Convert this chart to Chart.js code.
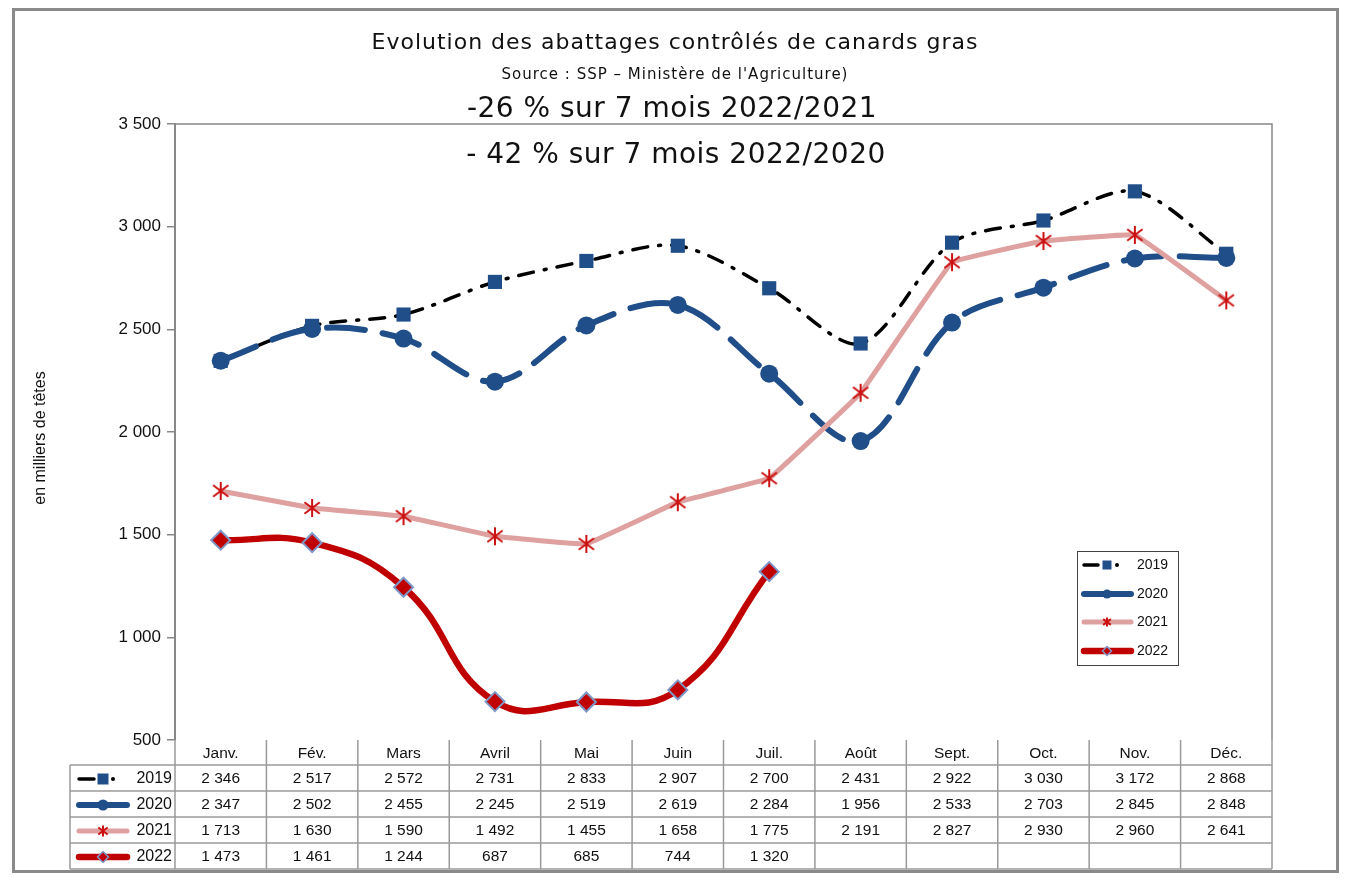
<!DOCTYPE html>
<html><head><meta charset="utf-8">
<script src="https://cdn.jsdelivr.net/npm/chart.js@4/dist/chart.umd.min.js"></script>
<style>html,body{margin:0;padding:0;background:#fff;}#wrap{width:1352px;height:884px;position:relative;}</style>
</head><body><div id="wrap"><canvas id="c" width="1352" height="884"></canvas></div>
<script>
const categories = ['Janv.','Fév.','Mars','Avril','Mai','Juin','Juil.','Août','Sept.','Oct.','Nov.','Déc.'];
const seriesNames = ['2019','2020','2021','2022'];
const v2019 = [2346,2517,2572,2731,2833,2907,2700,2431,2922,3030,3172,2868];
const v2020 = [2347,2502,2455,2245,2519,2619,2284,1956,2533,2703,2845,2848];
const v2021 = [1713,1630,1590,1492,1455,1658,1775,2191,2827,2930,2960,2641];
const v2022 = [1473,1461,1244,687,685,744,1320,null,null,null,null,null];
const yTicks = [500,1000,1500,2000,2500,3000,3500];
const titleText = 'Evolution des abattages contrôlés de canards gras';
const sourceText = "Source : SSP – Ministère de l'Agriculture)";
const note1 = '-26 % sur 7 mois 2022/2021';
const note2 = '- 42 % sur 7 mois 2022/2020';
const yTitle = 'en milliers de têtes';

const fmt = n => (n === null || n === undefined) ? '' : String(n).replace(/\B(?=(\d{3})+(?!\d))/g, ' ');
const TFONT = '"DejaVu Sans","Open Sans",sans-serif';
const ARIAL = '"Liberation Sans",Arial,sans-serif';

function asteriskCanvas(r, color, lw) {
  const c = document.createElement('canvas');
  const s = Math.ceil(2 * r + 4);
  c.width = s; c.height = s;
  const g = c.getContext('2d');
  const x = s / 2, y = s / 2, d = r * 0.85;
  g.strokeStyle = color; g.lineWidth = lw;
  g.beginPath();
  g.moveTo(x - d, y - d * 0.75); g.lineTo(x + d, y + d * 0.75);
  g.moveTo(x + d, y - d * 0.75); g.lineTo(x - d, y + d * 0.75);
  g.moveTo(x, y - r); g.lineTo(x, y + r);
  g.stroke();
  return c;
}

const styles = [
  {line:'#000000', width:3.5, dash:[15,11,2,11], marker:'rect', mFill:'#1F4E89', mBorder:'#1F4E89', r:10, tension:0.3},
  {line:'#1F4E89', width:6, dash:[38,18], marker:'circle', mFill:'#1F4E89', mBorder:'#1F4E89', r:9, tension:0.35},
  {line:'#DFA0A0', width:5, dash:[], marker:'star', mFill:'#CC1111', mBorder:'#CC1111', r:9, tension:0.05},
  {line:'#C00000', width:6.5, dash:[], marker:'rectRot', mFill:'#C00000', mBorder:'#7E97C8', r:9.5, tension:0.45}
];
const allData = [v2019, v2020, v2021, v2022];
const starImg = asteriskCanvas(9, '#CC1111', 2);

function drawMarker(ctx, s, x, y, r) {
  ctx.save();
  ctx.setLineDash([]);
  ctx.fillStyle = s.mFill; ctx.strokeStyle = s.mBorder; ctx.lineWidth = 1.5;
  ctx.beginPath();
  if (s.marker === 'rect') { ctx.rect(x-r, y-r, 2*r, 2*r); ctx.fill(); }
  else if (s.marker === 'circle') { ctx.arc(x, y, r, 0, Math.PI*2); ctx.fill(); }
  else if (s.marker === 'rectRot') { ctx.moveTo(x, y-r); ctx.lineTo(x+r, y); ctx.lineTo(x, y+r); ctx.lineTo(x-r, y); ctx.closePath(); ctx.fill(); ctx.stroke(); }
  else if (s.marker === 'star') { const d=r*0.85; ctx.lineWidth = 2; ctx.moveTo(x-d,y-d*0.75); ctx.lineTo(x+d,y+d*0.75); ctx.moveTo(x+d,y-d*0.75); ctx.lineTo(x-d,y+d*0.75); ctx.moveTo(x,y-r); ctx.lineTo(x,y+r); ctx.stroke(); }
  ctx.restore();
}
function drawSample(ctx, s, x1, x2, y, mx, r) {
  ctx.save();
  ctx.strokeStyle = s.line; ctx.lineWidth = s.width; ctx.lineCap = 'round';
  if (s.marker === 'rect') { ctx.beginPath(); ctx.moveTo(x1, y); ctx.lineTo(mx-9, y); ctx.stroke(); ctx.beginPath(); ctx.arc(mx+10, y, 2, 0, Math.PI*2); ctx.fillStyle='#000'; ctx.fill(); }
  else { ctx.beginPath(); ctx.moveTo(x1, y); ctx.lineTo(x2, y); ctx.stroke(); }
  ctx.restore();
  drawMarker(ctx, s, mx, y, r);
}

const decor = {
  id: 'decor',
  beforeDraw(chart) {
    const ctx = chart.ctx;
    ctx.save();
    ctx.fillStyle = '#fff'; ctx.fillRect(0, 0, chart.width, chart.height);
    ctx.strokeStyle = '#8a8a8a'; ctx.lineWidth = 3;
    ctx.strokeRect(13.5, 9.5, 1324, 862);
    ctx.restore();
  },
  afterDraw(chart) {
    const ctx = chart.ctx, a = chart.chartArea, xs = chart.scales.x;
    ctx.save();
    ctx.strokeStyle = '#888'; ctx.lineWidth = 1.5;
    ctx.beginPath(); ctx.moveTo(a.left, a.top); ctx.lineTo(a.right, a.top); ctx.lineTo(a.right, a.bottom); ctx.stroke();
    ctx.fillStyle = '#111'; ctx.textAlign = 'center'; ctx.textBaseline = 'middle';
    ctx.letterSpacing = '1px';
    ctx.font = '22px ' + TFONT; ctx.fillText(titleText, 675, 43);
    ctx.font = '15px ' + TFONT; ctx.fillText(sourceText, 675, 75);
    ctx.letterSpacing = '0.5px';
    ctx.font = '28px ' + TFONT; ctx.fillText(note1, 672, 110);
    ctx.fillText(note2, 676, 156);
    ctx.letterSpacing = '0px';
    ctx.save(); ctx.translate(41, 438); ctx.rotate(-Math.PI/2);
    ctx.font = '16px ' + ARIAL; ctx.fillStyle = '#111'; ctx.fillText(yTitle, 0, 0); ctx.restore();
    // table
    const band = (a.right - a.left) / categories.length;
    const rowTop = a.bottom, hH = 25, rH = 26;
    const tableBottom = rowTop + hH + rH * 4;
    const legL = 70;
    ctx.strokeStyle = '#9a9a9a'; ctx.lineWidth = 1.5;
    ctx.beginPath();
    for (let i = 0; i <= categories.length; i++) {
      const x = a.left + band * i;
      ctx.moveTo(x, rowTop); ctx.lineTo(x, tableBottom);
    }
    ctx.moveTo(legL, rowTop + hH); ctx.lineTo(legL, tableBottom);
    for (let r = 1; r <= 4; r++) { const y = rowTop + hH + rH * r; ctx.moveTo(legL, y); ctx.lineTo(a.right, y); }
    ctx.moveTo(legL, rowTop + hH); ctx.lineTo(a.right, rowTop + hH);
    ctx.stroke();
    ctx.fillStyle = '#111'; ctx.font = '15.5px ' + ARIAL; ctx.textAlign = 'center'; ctx.textBaseline = 'middle';
    categories.forEach((c, i) => ctx.fillText(c, xs.getPixelForValue(i), rowTop + hH/2 + 1));
    allData.forEach((arr, r) => {
      const yc = rowTop + hH + rH * r + rH/2 + 1;
      ctx.fillStyle = '#111'; ctx.textAlign = 'center'; ctx.font = '15.5px ' + ARIAL;
      arr.forEach((v, i) => ctx.fillText(fmt(v), xs.getPixelForValue(i), yc));
      ctx.font = '16px ' + ARIAL;
      ctx.textAlign = 'right'; ctx.fillText(seriesNames[r], 172, yc);
      drawSample(ctx, styles[r], 79, 127, yc, 103, 5.5);
    });
    // legend box
    ctx.strokeStyle = '#444'; ctx.lineWidth = 1;
    ctx.strokeRect(1077.5, 551.5, 101, 114);
    const ly = [565, 594, 622, 651];
    ly.forEach((y, r) => {
      drawSample(ctx, styles[r], 1084, 1131, y, 1107, 4.5);
      ctx.fillStyle = '#111'; ctx.font = '14px ' + ARIAL; ctx.textAlign = 'left';
      ctx.fillText(seriesNames[r], 1137, y);
    });
    ctx.restore();
  }
};

new Chart(document.getElementById('c'), {
  type: 'line',
  data: {
    labels: categories,
    datasets: allData.map((d, i) => ({
      label: seriesNames[i],
      data: d,
      borderColor: styles[i].line,
      borderWidth: styles[i].width,
      borderDash: styles[i].dash,
      borderCapStyle: 'round',
      tension: styles[i].tension,
      pointStyle: styles[i].marker === 'star' ? starImg : styles[i].marker,
      pointRadius: styles[i].r,
      pointBackgroundColor: styles[i].mFill,
      pointBorderColor: styles[i].mBorder,
      pointBorderWidth: styles[i].marker === 'rectRot' ? 2 : 0,
      fill: false,
      spanGaps: false,
      order: 4 - i
    }))
  },
  options: {
    responsive: false,
    animation: false,
    devicePixelRatio: 1,
    layout: { padding: { left: 0, right: 80, top: 124, bottom: 144 } },
    plugins: { legend: { display: false }, title: { display: false }, tooltip: { enabled: false } },
    scales: {
      x: { type: 'category', display: false, offset: true },
      y: {
        min: 500, max: 3500,
        afterBuildTicks: s => { s.ticks = yTicks.map(v => ({ value: v })); },
        afterFit: s => { s.width = 175; },
        ticks: { callback: v => fmt(v), color: '#111', font: { size: 17, family: ARIAL }, padding: 6 },
        grid: { drawOnChartArea: false, drawTicks: true, tickLength: 8, color: '#888', lineWidth: 1.5 },
        border: { color: '#888', width: 2 }
      }
    }
  },
  plugins: [decor]
});
</script></body></html>
